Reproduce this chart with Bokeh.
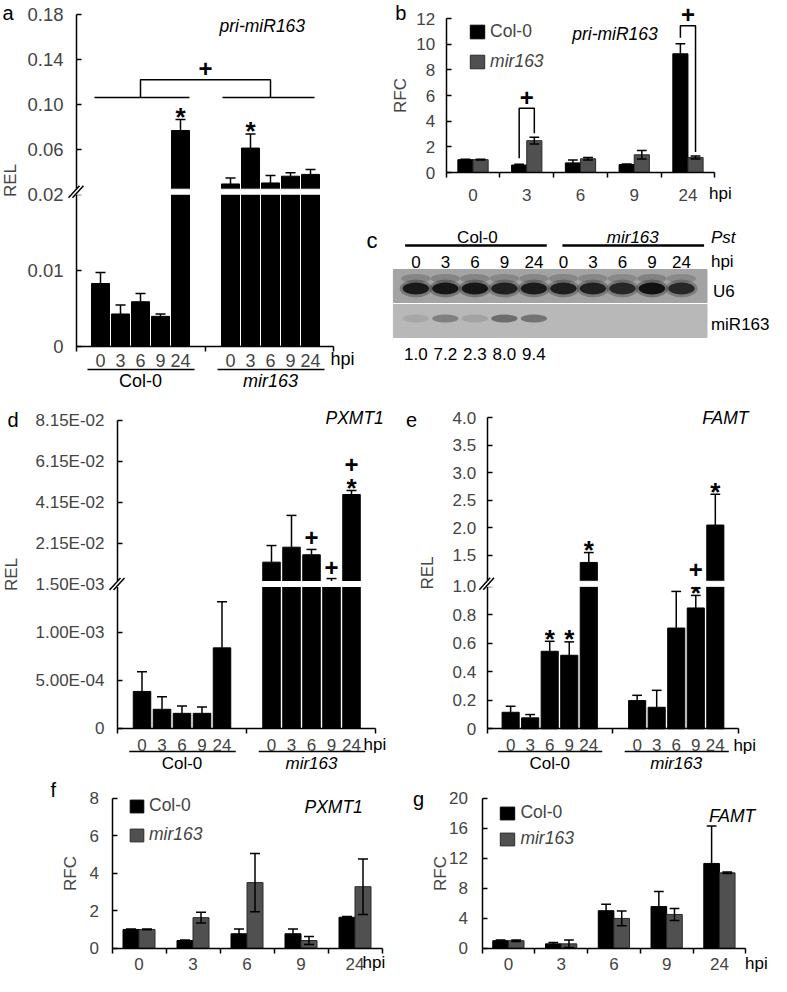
import numpy as np
from bokeh.plotting import figure
from bokeh.models import Range1d, LinearAxis, FixedTicker, Legend, LegendItem
from bokeh.layouts import row, column
from bokeh.core.properties import value
from bokeh.embed import file_html
from bokeh.resources import INLINE

SXL = 1.0          # left column scale
SXR = 383 / 392    # right column scale
FONT = "Liberation Sans"
GRAY = "#505050"

hpi = ["0", "3", "6", "9", "24"]

# a: pri-miR163, REL
a_col = [0.00825, 0.00424, 0.00585, 0.00393, 0.0766]
a_col_err = [0.00144, 0.00118, 0.00109, 0.00031, 0.0099]
a_mir = [0.0291, 0.0610, 0.0300, 0.0360, 0.0376]
a_mir_err = [0.0054, 0.0126, 0.0067, 0.0030, 0.0044]
a_col_sig = ["", "", "", "", "*"]
a_mir_sig = ["", "*", "", "", ""]

# b: pri-miR163, RFC
b_col = [1.0, 0.58, 0.75, 0.62, 9.25]
b_col_err = [0.03, 0.06, 0.22, 0.05, 0.78]
b_mir = [1.0, 2.48, 1.07, 1.38, 1.17]
b_mir_err = [0.03, 0.26, 0.10, 0.33, 0.12]
b_sig = ["", "+", "", "", "+"]

# c: small RNA blot (band strength estimates) and quantification
c_lanes = ["0", "3", "6", "9", "24", "0", "3", "6", "9", "24"]
c_u6 = [0.92, 0.95, 0.95, 0.85, 0.9, 0.88, 0.85, 0.8, 1.0, 0.8]
c_mir163 = [0.12, 0.4, 0.15, 0.55, 0.5, 0.0, 0.0, 0.0, 0.0, 0.0]
c_quant = ["1.0", "7.2", "2.3", "8.0", "9.4"]

# d: PXMT1, REL
d_col = [3.86e-4, 2.0e-4, 1.58e-4, 1.58e-4, 8.4e-4]
d_col_err = [2.04e-4, 1.3e-4, 0.77e-4, 0.67e-4, 4.8e-4]
d_mir = [0.0124, 0.0197, 0.0160, 0.0016, 0.0454]
d_mir_err = [0.0081, 0.0155, 0.0026, 0.0028, 0.0020]
d_col_sig = ["", "", "", "", ""]
d_mir_sig = ["", "", "+", "+", "*+"]

# e: FAMT, REL
e_col = [0.116, 0.077, 0.544, 0.516, 1.37]
e_col_err = [0.042, 0.023, 0.070, 0.094, 0.18]
e_mir = [0.198, 0.151, 0.707, 0.848, 2.05]
e_mir_err = [0.037, 0.119, 0.257, 0.088, 0.56]
e_col_sig = ["", "", "*", "*", "*"]
e_mir_sig = ["", "", "", "*+", "*"]

# f: PXMT1, RFC
f_col = [1.0, 0.41, 0.77, 0.77, 1.65]
f_col_err = [0.02, 0.03, 0.26, 0.26, 0.04]
f_mir = [1.0, 1.63, 3.5, 0.41, 3.28]
f_mir_err = [0.02, 0.29, 1.55, 0.21, 1.48]

# g: FAMT, RFC
g_col = [1.0, 0.58, 5.0, 5.55, 11.3]
g_col_err = [0.1, 0.17, 0.87, 2.0, 5.0]
g_mir = [1.0, 0.58, 3.97, 4.5, 10.05]
g_mir_err = [0.1, 0.5, 0.98, 0.8, 0.1]


# broken y scales (display units = pixels above the zero line)
def brk_a(v):
    return v / 0.02 * 152 if v <= 0.02 else 152 + (v - 0.02) / 0.04 * 45


def brk_d(v):
    return v / 1.5e-3 * 144 if v <= 1.5e-3 else 144 + (v - 1.5e-3) / 0.02 * 41


def brk_e(v):
    return v * 142.5 if v <= 1.0 else 146 + (v - 1.0) * 55


def key(t):
    t = round(t * 2) / 2
    return int(t) if t == int(t) else t


def base_fig(x0, x1, y0, y1, ax_x, zero_y, sx, k=1.0):
    return figure(width=round((x1 - x0) * sx), height=round(y1 - y0),
                  x_range=Range1d(x0 - ax_x, x1 - ax_x),
                  y_range=Range1d((zero_y - y1) / k, (zero_y - y0) / k),
                  x_axis_type=None, y_axis_type=None,
                  toolbar_location=None, output_backend="svg",
                  min_border=0, outline_line_color=None)


def txt(p, x, y, s, size="16.5px", style="normal", align="left", base="middle"):
    p.text(x=[x], y=[y], text=[s], text_font=value(FONT), text_font_size=size,
           text_font_style=style, text_align=align, text_baseline=base,
           text_color="black")


def add_y(p, ticks, labels, title, size, std, title_std):
    ticks = [key(t) for t in ticks]
    ax = LinearAxis(fixed_location=0, bounds=(0, ticks[-1]),
                    ticker=FixedTicker(ticks=ticks),
                    major_label_overrides=dict(zip(ticks, labels)),
                    axis_label=title, axis_label_text_font=FONT,
                    axis_label_text_font_size="17px",
                    axis_label_text_font_style="normal",
                    axis_label_standoff=title_std,
                    major_label_text_font=FONT, major_label_text_font_size=size,
                    major_label_standoff=std, major_tick_in=5, major_tick_out=0,
                    minor_tick_in=0, minor_tick_out=0,
                    axis_line_width=1.5, major_tick_line_width=1.5)
    p.add_layout(ax, "left")


def add_x(p, centers, labels, end, minor, size, std):
    centers = [key(c) for c in centers]
    ax = LinearAxis(fixed_location=0, bounds=(0, end),
                    ticker=FixedTicker(ticks=centers, minor_ticks=minor),
                    major_label_overrides=dict(zip(centers, labels)),
                    major_label_text_font=FONT, major_label_text_font_size=size,
                    major_label_standoff=std, major_tick_in=0, major_tick_out=0,
                    minor_tick_in=0, minor_tick_out=5,
                    axis_line_width=1.5, minor_tick_line_width=1.5)
    p.add_layout(ax, "below")


def errbars(p, xs, lo, hi, cap, lower=True):
    p.segment(x0=xs, y0=lo, x1=xs, y1=hi, line_color="black", line_width=1.5)
    p.segment(x0=[x - cap for x in xs], y0=hi, x1=[x + cap for x in xs], y1=hi,
              line_color="black", line_width=1.5)
    if lower:
        p.segment(x0=[x - cap for x in xs], y0=lo, x1=[x + cap for x in xs], y1=lo,
                  line_color="black", line_width=1.5)


def sig(p, xs, tops, marks, k=1.0):
    for x, t, m in zip(xs, tops, marks):
        y = t
        for j, ch in enumerate(m):
            if j == 0:
                y += (9 if ch == "*" else 11.5) / k
            else:
                y += 17 / k
            size = 26 if ch == "*" else 24
            adj = -0.25 * size / k if ch == "*" else 0
            txt(p, x, y + adj, ch, f"{size}px", "bold", align="center")


def break_marks(p, cy, right):
    p.quad(left=-2, right=right, bottom=cy - 2.5, top=cy + 2.5, color="white", level="overlay")
    for dx in (0, 4):
        p.segment(x0=dx - 8, y0=cy - 6, x1=dx + 3, y1=cy + 6, line_color="black",
                  line_width=1.5, level="overlay")


def group_labels(p, groups, bw, y_line, y_text, size):
    for xs, name, style in zip(groups, ["Col-0", "mir163"], ["normal", "italic"]):
        p.segment(x0=xs[0] - bw / 2 - 4, y0=y_line, x1=xs[-1] + bw / 2 + 5, y1=y_line,
                  line_color="black", line_width=1.5)
        txt(p, float(np.mean(xs)), y_text, name, size, style, align="center")


def rel_panel(box, sx, ax_x, zero_y, T, col, col_err, mir, mir_err, col_sig, mir_sig,
              cx0, mx0, bw, x_end, yt, ylab, ysize, xsize, ystd, ytstd, xstd, band):
    p = base_fig(*box, ax_x, zero_y, sx)
    cx = [cx0 + 20 * i for i in range(5)]
    mx = [mx0 + 20 * i for i in range(5)]
    p.vbar(x=cx, top=[T(v) for v in col], bottom=0, width=bw, color="black")
    p.vbar(x=mx, top=[T(v) for v in mir], bottom=0, width=bw, color="black")
    ctop = [T(v + e) for v, e in zip(col, col_err)]
    mtop = [T(v + e) for v, e in zip(mir, mir_err)]
    errbars(p, cx, [T(v) for v in col], ctop, 5, lower=False)
    errbars(p, mx, [T(v) for v in mir], mtop, 5, lower=False)
    sig(p, cx, ctop, col_sig)
    sig(p, mx, mtop, mir_sig)
    break_marks(p, band, mx[-1] + bw / 2 + 1)
    add_y(p, [T(v) for v in yt], ylab, "REL", ysize, ystd, ytstd)
    add_x(p, cx + mx, hpi + hpi, x_end, [0, key(x_end / 2), x_end], xsize, xstd)
    return p, cx, mx, ctop, mtop


def grouped(p, gw, col, col_err, mir, mir_err, ymax, ystep, ystd, ytstd, xstd, bw):
    centers = [gw * (i + 0.5) for i in range(5)]
    cx = [c - bw / 2 for c in centers]
    mx = [c + bw / 2 for c in centers]
    rc = p.vbar(x=cx, top=col, bottom=0, width=bw, fill_color="black", line_color="black")
    rm = p.vbar(x=mx, top=mir, bottom=0, width=bw, fill_color=GRAY, line_color="#2a2a2a")
    errbars(p, cx, [v - e for v, e in zip(col, col_err)], [v + e for v, e in zip(col, col_err)], 5)
    errbars(p, mx, [v - e for v, e in zip(mir, mir_err)], [v + e for v, e in zip(mir, mir_err)], 5)
    yt = list(range(0, ymax + 1, ystep))
    add_y(p, yt, [str(t) for t in yt], "RFC", "17px", ystd, ytstd)
    add_x(p, centers, hpi, gw * 5, [gw * i for i in range(6)], "17px", xstd)
    return rc, rm, cx, mx


def legends(p, rc, rm, x, yb_col, yb_mir, gw, gh):
    for r, lab, style, yb in ((rc, "Col-0", "normal", yb_col), (rm, "mir163", "italic", yb_mir)):
        lg = Legend(items=[LegendItem(label=lab, renderers=[r])], location=(x, yb),
                    glyph_width=gw, glyph_height=gh, label_standoff=4, padding=0, margin=0,
                    spacing=0, border_line_color=None, background_fill_alpha=0,
                    label_text_font=FONT, label_text_font_size="17.5px",
                    label_text_font_style=style, label_height=gh)
        p.add_layout(lg)


# ---- a ----
AX, Z = 76, 345.7
pa, acx, amx, actop, amtop = rel_panel(
    (0, 388, 0, 392), SXL, AX, Z, brk_a, a_col, a_col_err, a_mir, a_mir_err,
    a_col_sig, a_mir_sig, 24, 154, 18, 257,
    [0, 0.01, 0.02, 0.06, 0.10, 0.14, 0.18],
    ["0", "0.01", "0.02", "0.06", "0.10", "0.14", "0.18"],
    "18.5px", "18px", 13, 4, 3, 154.5)
base = max(actop + amtop) + 22
gl, gr = float(np.mean(acx)), float(np.mean(amx))
pa.segment(x0=[acx[0] - 6, amx[0] - 8], y0=[base, base], x1=[acx[-1] + 9, amx[-1] + 4],
           y1=[base, base], line_color="black", line_width=1.5)
pa.line(x=[gl, gl, gr, gr], y=[base, base + 17.7, base + 17.7, base], line_color="black", line_width=1.5)
txt(pa, (gl + gr) / 2, base + 28.4, "+", "24px", "bold", align="center")
group_labels(pa, [acx, amx], 18, Z - 369, Z - 380.5, "18px")
txt(pa, 254, Z - 358, "hpi", "18px")
txt(pa, 219 - AX, Z - 25.7, "pri-miR163", "17.5px", "italic")
txt(pa, 2 - AX, Z - 12, "a", "20px")
txt(pa, 366 - AX, Z - 240, "c", "22px")

# ---- b ----
AX, Z, K = 454, 172, 154 / 12
pb = base_fig(395, 787, 0, 205, AX, Z, SXR, K)
rc, rm, bcx, bmx = grouped(pb, 55, b_col, b_col_err, b_mir, b_mir_err, 12, 2, 11, 4, 11, 15.5)
br_h = {1: 29, 4: 18}
for i, m in enumerate(b_sig):
    if not m:
        continue
    ct = b_col[i] + b_col_err[i]
    mt = b_mir[i] + b_mir_err[i]
    top = max(ct, mt) + br_h[i] / K
    pb.line(x=[bcx[i], bcx[i], bmx[i], bmx[i]], y=[ct + 6 / K, top, top, mt + 4 / K],
            line_color="black", line_width=1.5)
    txt(pb, (bcx[i] + bmx[i]) / 2, top + 11 / K, m, "24px", "bold", align="center")
legends(pb, rc, rm, (477 - 395) * SXR, 205 - 41.5, 205 - 71.5, 18, 17)
txt(pb, 723 - AX, (Z - 193) / K, "hpi", "17px")
txt(pb, 583 - AX, (Z - 33) / K, "pri-miR163", "17.5px", "italic")
txt(pb, 402 - AX, (Z - 12) / K, "b", "20px")

# ---- c ----
pc = figure(width=round(392 * SXR), height=187, x_range=Range1d(395, 787),
            y_range=Range1d(-392, -205), x_axis_type=None, y_axis_type=None,
            toolbar_location=None, output_backend="svg", min_border=0, outline_line_color=None)
lane = [423 + 30.2 * i for i in range(10)]
pc.quad(left=400, right=721, top=-269, bottom=-302, color="#a3a3a3")
pc.quad(left=400, right=721, top=-304, bottom=-337, color="#b8b8b8")
pc.ellipse(x=lane, y=-278, width=30, height=9, fill_color="#5c5c5c", line_color=None,
           fill_alpha=[0.45 * a for a in c_u6])
pc.ellipse(x=lane, y=-288, width=33, height=18, fill_color="#2e2e2e", line_color=None,
           fill_alpha=[0.4 * a for a in c_u6])
pc.ellipse(x=lane, y=-288, width=27, height=12, fill_color="#111111", line_color=None,
           fill_alpha=c_u6)
pc.ellipse(x=lane, y=-318, width=27, height=8, fill_color="#2e2e2e", line_color=None,
           fill_alpha=c_mir163)
pc.segment(x0=[412, 573], y0=[-245, -245], x1=[557, 718], y1=[-245, -245],
           line_color="black", line_width=2.5)
for x, s in zip(lane, c_lanes):
    txt(pc, x, -261, s, "17px", align="center")
for x, s in zip(lane, c_quant):
    txt(pc, x, -353, s, "17px", align="center")
txt(pc, 486, -236.5, "Col-0", "17px", align="center")
txt(pc, 645, -236.5, "mir163", "17px", "italic", align="center")
txt(pc, 725, -236.5, "Pst", "17px", "italic")
txt(pc, 725, -261, "hpi", "17px")
txt(pc, 727, -291, "U6", "17px")
txt(pc, 725, -324, "miR163", "17px")

# ---- d ----
AX, Z = 117, 734
pdd, dcx, dmx, _, _ = rel_panel(
    (0, 388, 398, 780), SXL, AX, Z, brk_d, d_col, d_col_err, d_mir, d_mir_err,
    d_col_sig, d_mir_sig, 24.5, 154, 17.5, 258,
    [0, 5e-4, 1e-3, 1.5e-3, 0.0215, 0.0415, 0.0615, 0.0815],
    ["0", "5.00E-04", "1.00E-03", "1.50E-03", "2.15E-02", "4.15E-02", "6.15E-02", "8.15E-02"],
    "17px", "17px", 13, 12, 5, 144.5)
group_labels(pdd, [dcx, dmx], 17.5, Z - 757, Z - 769, "17px")
txt(pdd, 363 - AX, Z - 750, "hpi", "17px")
txt(pdd, 325 - AX, Z - 423, "PXMT1", "17.5px", "italic")
txt(pdd, 7 - AX, Z - 425, "d", "20px")

# ---- e ----
AX, Z = 496, 734.3
pe, ecx, emx, _, _ = rel_panel(
    (395, 787, 398, 780), SXR, AX, Z, brk_e, e_col, e_col_err, e_mir, e_mir_err,
    e_col_sig, e_mir_sig, 24, 153.5, 17.5, 257,
    [0, 0.2, 0.4, 0.6, 0.8, 1.0, 1.5, 2.0, 2.5, 3.0, 3.5, 4.0],
    ["0", "0.2", "0.4", "0.6", "0.8", "1.0", "1.5", "2.0", "2.5", "3.0", "3.5", "4.0"],
    "17px", "17px", 11, 13, 5, 145)
group_labels(pe, [ecx, emx], 17.5, Z - 757, Z - 769, "17px")
txt(pe, 748 - AX, Z - 751, "hpi", "17px")
txt(pe, 716 - AX, Z - 423, "FAMT", "17.5px", "italic")
txt(pe, 413 - AX, Z - 425, "e", "20px")

# ---- f ----
AX, Z, K = 111.5, 961.7, 18.75
pf = base_fig(0, 388, 788, 990, AX, Z, SXL, K)
rc, rm, _, _ = grouped(pf, 54, f_col, f_col_err, f_mir, f_mir_err, 8, 2, 13, 7, 5, 16)
legends(pf, rc, rm, 128 * SXL, 990 - 830, 990 - 859, 17, 16)
txt(pf, 362 - AX, (Z - 976) / K, "hpi", "17px")
txt(pf, 304 - AX, (Z - 820) / K, "PXMT1", "17.5px", "italic")
txt(pf, 50 - AX, (Z - 803) / K, "f", "20px")

# ---- g ----
AX, Z, K = 490.7, 961.7, 7.5
pg = base_fig(395, 787, 788, 990, AX, Z, SXR, K)
rc, rm, _, _ = grouped(pg, 54, g_col, g_col_err, g_mir, g_mir_err, 20, 4, 14, -3, 5, 16)
legends(pg, rc, rm, (508 - 395) * SXR, 990 - 837, 990 - 863, 18, 16)
txt(pg, 760 - AX, (Z - 977) / K, "hpi", "17px")
txt(pg, 723 - AX, (Z - 829) / K, "FAMT", "17.5px", "italic")
txt(pg, 420 - AX, (Z - 812) / K, "g", "20px")

layout = column(row(pa, column(pb, pc)), row(pdd, pe), row(pf, pg))
open("out.html", "w").write(file_html(layout, INLINE))
